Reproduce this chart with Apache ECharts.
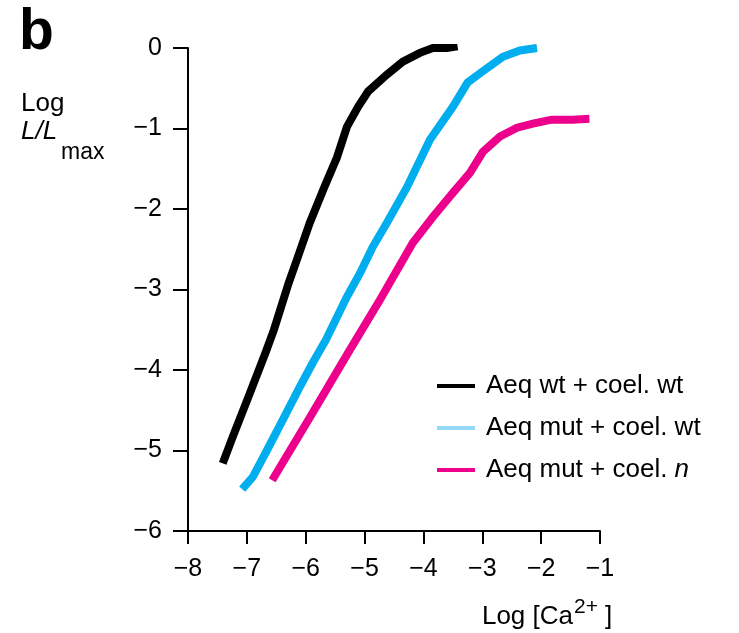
<!DOCTYPE html>
<html>
<head>
<meta charset="utf-8">
<script src="https://cdn.jsdelivr.net/npm/echarts@6/dist/echarts.min.js"></script>
<style>
  html, body { margin: 0; padding: 0; background: #fff; }
  #chart { width: 739px; height: 633px; }
</style>
</head>
<body>
<div id="chart"></div>
<script>
// Luminescence vs. calcium concentration, log-log
const seriesNames = ['Aeq wt + coel. wt', 'Aeq mut + coel. wt', 'Aeq mut + coel. n'];

const wtLogCa = [-7.41, -7.24, -6.95, -6.68, -6.54, -6.29, -6.15, -5.93, -5.69, -5.47, -5.30, -5.11, -4.94, -4.62, -4.35, -4.06, -3.84, -3.60, -3.42];
const wtLogL  = [-5.16, -4.83, -4.29, -3.78, -3.50, -2.92, -2.63, -2.17, -1.74, -1.36, -0.98, -0.73, -0.54, -0.33, -0.17, -0.06, 0.00, 0.00, 0.02];

const mutLogCa = [-7.08, -6.90, -6.66, -6.39, -6.10, -5.88, -5.66, -5.30, -5.08, -4.86, -4.62, -4.28, -3.89, -3.50, -3.25, -2.92, -2.65, -2.36, -2.07];
const mutLogL  = [-5.48, -5.33, -5.00, -4.62, -4.21, -3.91, -3.63, -3.09, -2.80, -2.47, -2.17, -1.73, -1.14, -0.73, -0.43, -0.25, -0.11, -0.03, 0.00];

const mutNLogCa = [-6.57, -5.93, -5.25, -4.74, -4.18, -3.84, -3.50, -3.21, -2.99, -2.70, -2.41, -2.14, -1.82, -1.46, -1.18];
const mutNLogL  = [-5.37, -4.59, -3.75, -3.13, -2.42, -2.10, -1.80, -1.55, -1.29, -1.10, -0.99, -0.94, -0.89, -0.89, -0.88];

const xRange = [-8, -1];
const yRange = [-6, 0];

const FONT = '"Liberation Sans", Arial, Helvetica, sans-serif';
const colors = ['#000000', '#00aeef', '#ec008c'];
const legendColors = ['#000000', '#94d9f6', '#ec008c'];

const zip = (xs, ys) => xs.map((x, i) => [x, ys[i]]);
const minusFmt = v => String(v).replace('-', '\u2212');

const chart = echarts.init(document.getElementById('chart'), null, { renderer: 'canvas' });

const axisCommon = {
  type: 'value',
  interval: 1,
  splitLine: { show: false },
  axisLine: { show: true, onZero: false, lineStyle: { color: '#000', width: 2 } },
  axisTick: { show: true, inside: false, lineStyle: { color: '#000', width: 2 } },
  axisLabel: { color: '#000', fontFamily: FONT, fontSize: 25, formatter: minusFmt }
};

const txt = (text, x, y, font, align) => ({
  type: 'text', x: x, y: y,
  style: { text: text, font: font, fill: '#000', align: align, verticalAlign: 'middle', textAlign: align, textVerticalAlign: 'middle' }
});

chart.setOption({
  animation: false,
  backgroundColor: '#fff',
  grid: { left: 188, right: 139, top: 48, bottom: 102, containLabel: false },
  xAxis: Object.assign({}, axisCommon, {
    min: xRange[0], max: xRange[1],
    axisTick: Object.assign({}, axisCommon.axisTick, { length: 13 }),
    axisLabel: Object.assign({}, axisCommon.axisLabel, { margin: 26 })
  }),
  yAxis: Object.assign({}, axisCommon, {
    min: yRange[0], max: yRange[1],
    axisTick: Object.assign({}, axisCommon.axisTick, { length: 15 }),
    axisLabel: Object.assign({}, axisCommon.axisLabel, { margin: 26 })
  }),
  legend: {
    orient: 'vertical',
    left: 437,
    top: 373,
    padding: 0,
    icon: 'rect',
    itemWidth: 38,
    itemHeight: 4,
    itemGap: 16,
    textStyle: {
      color: '#000', fontFamily: FONT, fontSize: 26, padding: [0, 0, 0, 6],
      rich: { i: { fontStyle: 'italic', fontFamily: FONT, fontSize: 26, color: '#000' } }
    },
    formatter: name => name.replace(/ n$/, ' {i|n}'),
    data: seriesNames.map((n, i) => ({
      name: n,
      icon: 'rect',
      itemStyle: { color: legendColors[i] }
    }))
  },
  series: [
    [wtLogCa, wtLogL], [mutLogCa, mutLogL], [mutNLogCa, mutNLogL]
  ].map((d, i) => ({
    name: seriesNames[i],
    type: 'line',
    symbol: 'none',
    showSymbol: false,
    data: zip(d[0], d[1]),
    itemStyle: { color: colors[i] },
    lineStyle: { color: colors[i], width: 8, cap: 'butt', join: 'miter' },
    z: 3 - i
  })),
  graphic: [
    txt('b', 19, 33, 'bold 57px ' + FONT, 'left'),
    txt('Log', 21, 104, '26px ' + FONT, 'left'),
    txt('L/L', 21, 132, 'italic 26px ' + FONT, 'left'),
    txt('max', 61, 153, '23px ' + FONT, 'left'),
    txt('Log [Ca', 573, 617, '26px ' + FONT, 'right'),
    txt('2+', 574, 607, '21px ' + FONT, 'left'),
    txt(']', 605, 617, '26px ' + FONT, 'left')
  ]
});
</script>
</body>
</html>
